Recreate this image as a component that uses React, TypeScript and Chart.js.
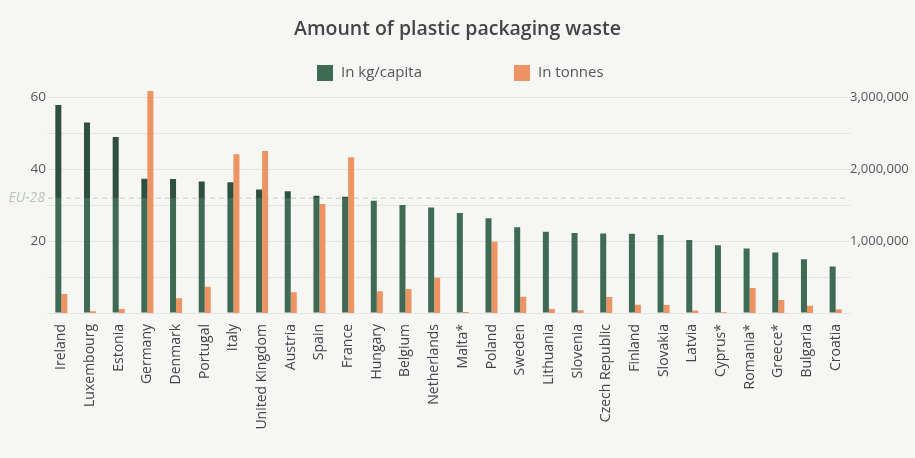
import React, { useEffect, useRef } from "react";
import { Chart, registerables } from "chart.js";

Chart.register(...registerables);

const countries = [
  "Ireland", "Luxembourg", "Estonia", "Germany", "Denmark", "Portugal", "Italy",
  "United Kingdom", "Austria", "Spain", "France", "Hungary", "Belgium", "Netherlands",
  "Malta*", "Poland", "Sweden", "Lithuania", "Slovenia", "Czech Republic", "Finland",
  "Slovakia", "Latvia", "Cyprus*", "Romania*", "Greece*", "Bulgaria", "Croatia",
];

const kgPerCapita = [
  57.8, 52.9, 48.9, 37.3, 37.2, 36.5, 36.3, 34.3, 33.8, 32.6, 32.3, 31.2, 30.0, 29.3,
  27.8, 26.3, 23.8, 22.6, 22.2, 22.1, 22.0, 21.7, 20.3, 18.8, 17.9, 16.8, 14.9, 12.9,
];

const tonnes = [
  264000, 24000, 55000, 3083000, 204000, 366000, 2204000, 2250000, 287000, 1514000,
  2162000, 301000, 333000, 491000, 14000, 991000, 227000, 56000, 37000, 222000,
  116000, 111000, 33000, 12000, 347000, 180000, 102000, 51000,
];

const leftTickLabels = [20, 40, 60];
const rightTickLabels = [1000000, 2000000, 3000000];
const euAverageKg = 31.9;
const euLabel = "EU-28";
const seriesLabels = ["In kg/capita", "In tonnes"];
const chartTitle = "Amount of plastic packaging waste";

const GREEN = "#3f6b55";
const GREEN_DARK = "#30503f";
const ORANGE = "#ee9462";
const FONT = "'Open Sans', 'Noto Sans', sans-serif";

const euLinePlugin = {
  id: "euLine",
  beforeDatasetsDraw(chart: any) {
    const { ctx, chartArea, scales } = chart;
    const y = scales.y.getPixelForValue(euAverageKg);
    ctx.save();
    ctx.strokeStyle = "#c9c9c7";
    ctx.lineWidth = 1;
    ctx.setLineDash([5, 4]);
    ctx.beginPath();
    ctx.moveTo(chartArea.left + 1, y);
    ctx.lineTo(chartArea.right - 2, y);
    ctx.stroke();
    ctx.setLineDash([]);
    ctx.font = `italic 14px ${FONT}`;
    ctx.fillStyle = "#b3c7be";
    ctx.textAlign = "right";
    ctx.textBaseline = "middle";
    ctx.fillText(euLabel, chartArea.left - 2, y);
    ctx.restore();
  },
};

const legendPlugin = {
  id: "customLegend",
  afterDraw(chart: any) {
    const { ctx } = chart;
    const ds = chart.data.datasets;
    const positions = [317, 514];
    ctx.save();
    ctx.font = `15px ${FONT}`;
    ctx.textAlign = "left";
    ctx.textBaseline = "middle";
    ds.forEach((d: any, i: number) => {
      const x = positions[i];
      ctx.fillStyle = d.legendColor;
      ctx.fillRect(x, 65, 16, 16);
      ctx.fillStyle = "#555";
      ctx.fillText(d.label, x + 24, 73);
    });
    ctx.restore();
  },
};

export default function App() {
  const ref = useRef<HTMLCanvasElement | null>(null);

  useEffect(() => {
    document.body.style.margin = "0";
    document.body.style.background = "#f6f6f4";
    if (!ref.current) return;
    const chart = new Chart(ref.current, {
      type: "bar",
      data: {
        labels: countries,
        datasets: [
          {
            label: seriesLabels[0],
            data: kgPerCapita,
            yAxisID: "y",
            legendColor: GREEN,
            backgroundColor: (c: any) => {
              const ch = c.chart;
              const area = ch.chartArea;
              if (!area) return GREEN;
              const yPix = ch.scales.y.getPixelForValue(euAverageKg);
              const g = ch.ctx.createLinearGradient(0, area.top, 0, area.bottom);
              const stop = Math.min(1, Math.max(0, (yPix - area.top) / (area.bottom - area.top)));
              g.addColorStop(0, GREEN_DARK);
              g.addColorStop(stop, GREEN_DARK);
              g.addColorStop(stop, GREEN);
              g.addColorStop(1, GREEN);
              return g;
            },
            categoryPercentage: 0.42,
            barPercentage: 1,
          } as any,
          {
            label: seriesLabels[1],
            data: tonnes,
            yAxisID: "y1",
            legendColor: ORANGE,
            backgroundColor: ORANGE,
            categoryPercentage: 0.42,
            barPercentage: 1,
          } as any,
        ],
      },
      options: {
        animation: false,
        responsive: true,
        maintainAspectRatio: false,
        layout: { padding: 0 },
        plugins: {
          legend: { display: false },
          tooltip: { enabled: false },
          title: {
            display: true,
            text: chartTitle,
            color: "#444",
            font: { family: FONT, size: 19.5, weight: "600" as any },
            padding: { top: 18, bottom: 48.4 },
          },
        },
        scales: {
          x: {
            grid: { display: false },
            border: { display: false },
            ticks: {
              autoSkip: false,
              maxRotation: 90,
              minRotation: 90,
              padding: 3,
              color: "#444",
              font: { family: FONT, size: 14 },
            },
            afterFit: (s: any) => {
              s.height = 145;
            },
          },
          y: {
            position: "left",
            min: 0,
            max: 62,
            border: { display: false },
            grid: { color: "#e3e3e1", drawTicks: false },
            ticks: {
              stepSize: 10,
              includeBounds: false,
              padding: 1,
              color: "#555",
              font: { family: FONT, size: 13.5 },
              callback: (v: any) => (leftTickLabels.includes(Number(v)) ? String(v) : ""),
            },
            afterFit: (s: any) => {
              s.width = 47;
            },
          },
          y1: {
            position: "right",
            min: 0,
            max: 3100000,
            border: { display: false },
            grid: { display: false, drawTicks: false },
            afterBuildTicks: (s: any) => {
              s.ticks = rightTickLabels.map((value) => ({ value }));
            },
            ticks: {
              padding: 0,
              color: "#555",
              font: { family: FONT, size: 13 },
              callback: (v: any) => Number(v).toLocaleString("en-US"),
            },
            afterFit: (s: any) => {
              s.width = 65;
            },
          },
        },
      } as any,
      plugins: [euLinePlugin, legendPlugin],
    });
    return () => chart.destroy();
  }, []);

  return (
    <div style={{ width: 915, height: 458, position: "relative", background: "#f6f6f4" }}>
      <canvas ref={ref} />
    </div>
  );
}
